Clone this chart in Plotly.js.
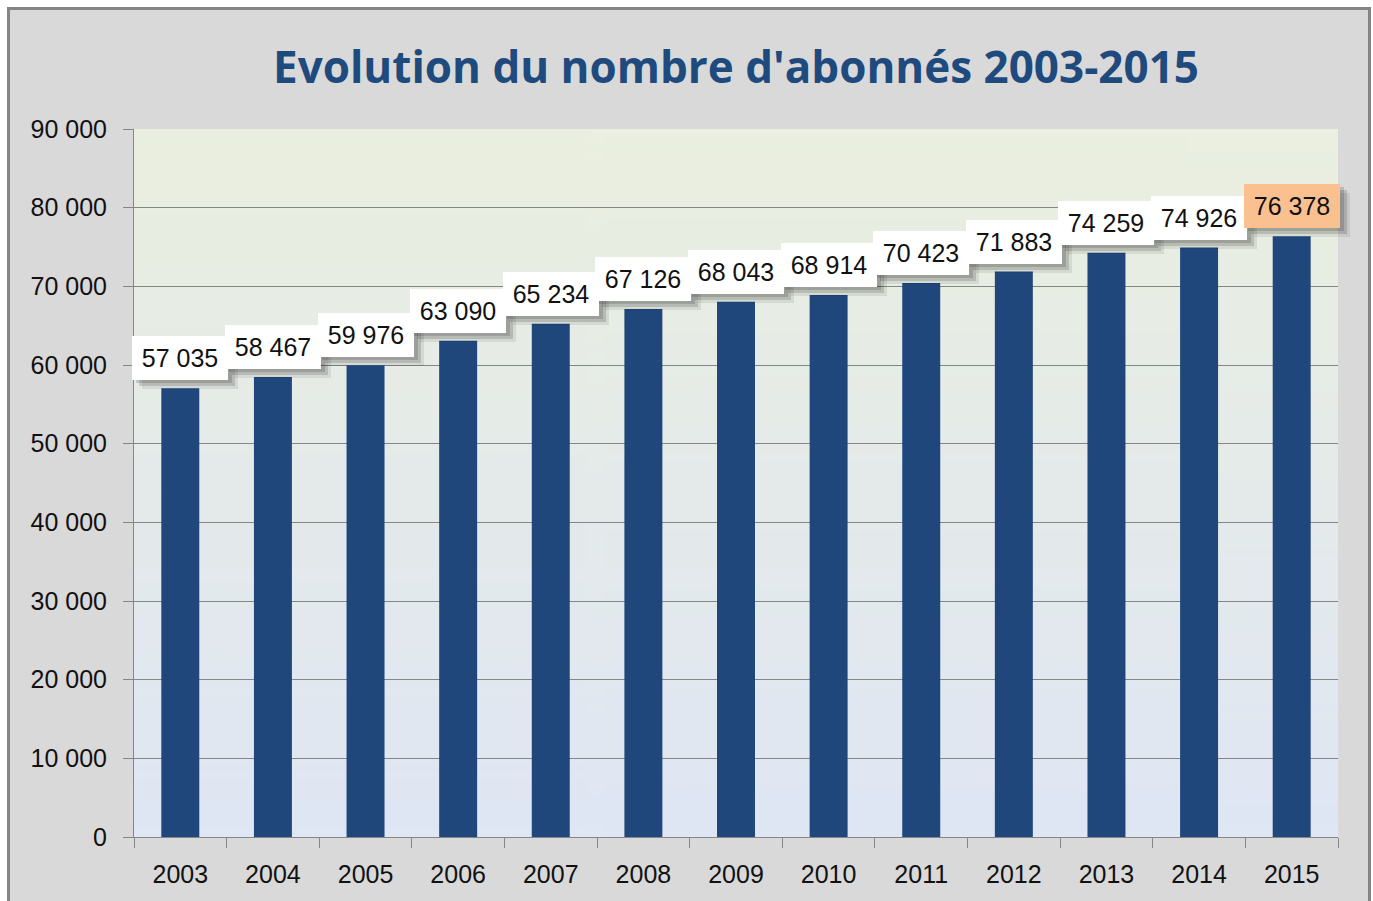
<!DOCTYPE html>
<html>
<head>
<meta charset="utf-8">
<script src="https://cdn.plot.ly/plotly-3.0.1.min.js"></script>
<style>
  html, body { margin: 0; padding: 0; background: #ffffff; width: 1373px; height: 901px; overflow: hidden; }
  #frame { position: absolute; left: 7px; top: 7px; width: 1364px; height: 900px;
           border: 3px solid #858585; border-bottom: 0; box-sizing: border-box; overflow: hidden; background: #d9d9d9; }
  #chart { position: absolute; left: 0; top: 0; width: 1358px; height: 891px; }
</style>
</head>
<body>
<div id="frame"><div id="chart"></div></div>
<script>
// ---- data ----
const years = ['2003','2004','2005','2006','2007','2008','2009','2010','2011','2012','2013','2014','2015'];
const subscribers = [57035, 58467, 59976, 63090, 65234, 67126, 68043, 68914, 70423, 71883, 74259, 74926, 76378];
const chartTitle = "Evolution du nombre d'abonnés 2003-2015";

function fmt(v) {
  return String(v).replace(/\B(?=(\d{3})+(?!\d))/g, ' ');
}

// gradient background for plot area
const cv = document.createElement('canvas');
cv.width = 4; cv.height = 200;
const ctx = cv.getContext('2d');
const g = ctx.createLinearGradient(0, 0, 0, 200);
g.addColorStop(0, '#eaefdf');
g.addColorStop(1, '#dfe6f4');
ctx.fillStyle = g;
ctx.fillRect(0, 0, 4, 200);
const bgURL = cv.toDataURL('image/png');

const labelFont = 'Liberation Sans, Arial, sans-serif';
const annotations = [];
years.forEach((y, i) => {
  const last = i === years.length - 1;
  // soft shadow layers (empty boxes)
  [[10, -9, 'rgba(0,0,0,0.08)'], [7, -6, 'rgba(0,0,0,0.14)'], [4, -3, 'rgba(0,0,0,0.14)']].forEach(s => {
    annotations.push({
      x: i, y: subscribers[i], xref: 'x', yref: 'y',
      text: ' ', showarrow: false,
      xanchor: 'center', yanchor: 'bottom', yshift: 8 + s[1], xshift: s[0],
      bgcolor: s[2], borderwidth: 0, borderpad: 4, width: 88, height: 36,
      font: { family: labelFont, size: 25, color: 'rgba(0,0,0,0)' }
    });
  });
  annotations.push({
    x: i, y: subscribers[i], xref: 'x', yref: 'y',
    text: fmt(subscribers[i]), showarrow: false,
    xanchor: 'center', yanchor: 'bottom', yshift: 8,
    bgcolor: last ? '#fac090' : '#ffffff', borderwidth: 0, borderpad: 4, width: 88, height: 36,
    font: { family: labelFont, size: 25, color: '#111111' }
  });
});

const trace = {
  type: 'bar',
  x: years,
  y: subscribers,
  marker: { color: '#1f477b' },
  hoverinfo: 'skip'
};

const layout = {
  width: 1358, height: 891,
  margin: { l: 124, r: 30, t: 119, b: 64, pad: 0 },
  paper_bgcolor: '#d9d9d9',
  plot_bgcolor: 'rgba(0,0,0,0)',
  separators: ', ',
  bargap: 0.59,
  showlegend: false,
  title: {
    text: chartTitle,
    font: { family: 'Open Sans, sans-serif', size: 44, color: '#1f4a7e', weight: 'bold' },
    x: 0.5, xref: 'paper', xanchor: 'center',
    y: 1 - 58 / 891, yref: 'container', yanchor: 'middle'
  },
  xaxis: {
    type: 'category',
    range: [-0.5, years.length - 0.5],
    showgrid: false,
    showline: true, linecolor: '#868686', linewidth: 1,
    ticks: 'outside', tickson: 'boundaries', ticklen: 10, tickcolor: '#868686', tickwidth: 1,
    ticklabelstandoff: 15,
    tickfont: { family: labelFont, size: 25, color: '#111111' },
    zeroline: false
  },
  yaxis: {
    range: [0, 90000], dtick: 10000, tick0: 0,
    tickformat: ',d',
    showgrid: true, gridcolor: '#868686', gridwidth: 1,
    showline: true, linecolor: '#868686', linewidth: 1,
    ticks: 'outside', ticklen: 10, tickcolor: '#868686', tickwidth: 1,
    ticklabelstandoff: 11,
    tickfont: { family: labelFont, size: 25, color: '#111111' },
    zeroline: false
  },
  images: [{
    source: bgURL, xref: 'paper', yref: 'paper', x: 0, y: 1, sizex: 1, sizey: 1,
    xanchor: 'left', yanchor: 'top', sizing: 'stretch', layer: 'below'
  }],
  annotations: annotations
};

Plotly.newPlot('chart', [trace], layout, { displayModeBar: false, staticPlot: true });
</script>
</body>
</html>
